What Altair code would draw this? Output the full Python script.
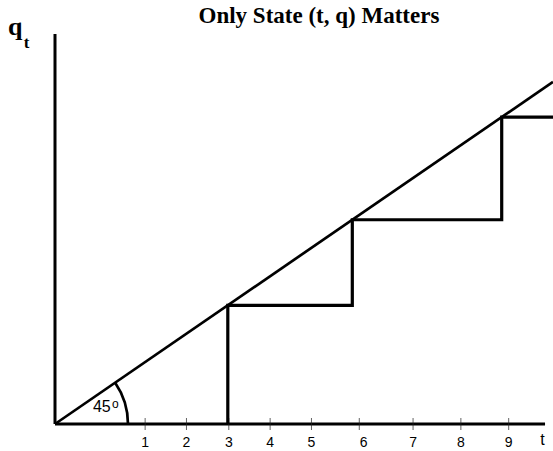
import math
import altair as alt
import pandas as pd

# --- values -------------------------------------------------------------
tick_t = [1.81, 2.64, 3.49, 4.32, 5.15, 6.11, 7.19, 8.15, 9.11]
tick_labels = ["1", "2", "3", "4", "5", "6", "7", "8", "9"]
label_t = [1.81, 2.64, 3.49, 4.32, 5.15, 6.2, 7.19, 8.15, 9.11]
step_t = [3.47, 5.97, 8.97]          # times at which q jumps up to the 45° line

T_MAX = 10.0      # right end of the t scale
Q_MAX = 11.4      # top of the q scale
AXIS_T_END = 9.84

W, H = 498, 390
PAD = {"left": 55, "top": 34, "right": 0, "bottom": 27}

xs = alt.Scale(domain=[0, T_MAX], nice=False, zero=False)
ys = alt.Scale(domain=[0, Q_MAX], nice=False, zero=False)
NOAX = dict(axis=None)

def X(field="t"):
    return alt.X(f"{field}:Q", scale=xs, **NOAX)

def Y(field="q"):
    return alt.Y(f"{field}:Q", scale=ys, **NOAX)

# --- axes drawn as plain lines -----------------------------------------
axes_df = pd.DataFrame({
    "t": [0, 0], "q": [0, 0],
    "t2": [AXIS_T_END, 0], "q2": [0, Q_MAX],
})
axes = alt.Chart(axes_df).mark_rule(color="black", strokeWidth=3).encode(
    x=X(), y=Y(), x2="t2:Q", y2="q2:Q"
)

ticks_df = pd.DataFrame({"t": tick_t, "q": [0] * len(tick_t)})
ticks = alt.Chart(ticks_df).mark_tick(
    color="#222", thickness=1, size=12, orient="vertical"
).encode(x=X(), y=Y())

labels_df = pd.DataFrame({"t": label_t, "q": [0] * len(label_t), "lab": tick_labels})
labels = alt.Chart(labels_df).mark_text(
    font="Liberation Sans", fontSize=14, color="black",
    baseline="alphabetic", align="center", dy=23
).encode(x=X(), y=Y(), text="lab:N")

# --- 45 degree line ----------------------------------------------------
diag_df = pd.DataFrame({"t": [0, T_MAX], "q": [0, T_MAX]})
diag = alt.Chart(diag_df).mark_line(color="black", strokeWidth=2.7).encode(
    x=X(), y=Y()
)

# --- staircase of q jumps ----------------------------------------------
pts = [(step_t[0], 0.0)]
for i, s in enumerate(step_t):
    pts.append((s, s))
    nxt = step_t[i + 1] if i + 1 < len(step_t) else T_MAX
    pts.append((nxt, s))
stairs_df = pd.DataFrame({"t": [p[0] for p in pts], "q": [p[1] for p in pts],
                          "k": list(range(len(pts)))})
stairs = alt.Chart(stairs_df).mark_line(
    color="black", strokeWidth=3.2, strokeJoin="miter"
).encode(x=X(), y=Y(), order="k:Q")

# --- angle marker -------------------------------------------------------
px_t = W / T_MAX
px_q = H / Q_MAX
ang = math.atan2(px_q, px_t)          # on-screen angle of the 45° line
origin_df = pd.DataFrame({"t": [0.0], "q": [0.0]})
arc = alt.Chart(origin_df).mark_arc(
    filled=False, stroke="black", strokeWidth=2.7,
    radius=73, radius2=73,
    theta=math.pi / 2 - ang, theta2=math.pi / 2
).encode(x=X(), y=Y())

ann_df = pd.DataFrame({
    "t": [0.94, 1.21, 9.79, 5.30, -0.80, -0.57],
    "q": [0.35, 0.47, -0.6, 11.73, 11.37, 10.99],
    "txt": ["45", "o", "t", "Only State (t, q) Matters", "q", "t"],
    "grp": ["a", "b", "c", "d", "e", "f"],
})

def ann(g, **kw):
    return alt.Chart(ann_df).transform_filter(alt.datum.grp == g).mark_text(
        baseline="alphabetic", align="center", color="black", **kw
    ).encode(x=X(), y=Y(), text="txt:N")

texts = [
    ann("a", font="Liberation Sans", fontSize=16),
    ann("b", font="Liberation Sans", fontSize=12),
    ann("c", font="Liberation Sans", fontSize=16),
    ann("d", font="Liberation Serif", fontSize=23, fontWeight="bold"),
    ann("e", font="Liberation Serif", fontSize=26, fontWeight="bold"),
    ann("f", font="Liberation Serif", fontSize=17, fontWeight="bold"),
]

chart = alt.layer(axes, ticks, labels, diag, stairs, arc, *texts).properties(
    width=W, height=H, padding=PAD, autosize="none", background="white"
).configure_view(stroke=None)

chart.save("out.html", embed_options={"renderer": "svg", "actions": False})
